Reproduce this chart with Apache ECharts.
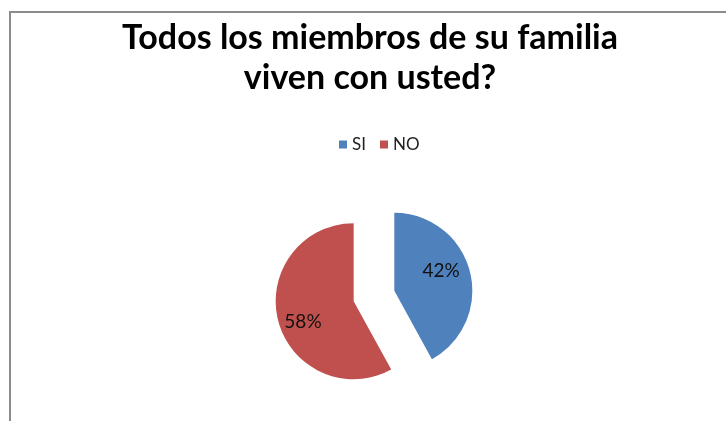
<!DOCTYPE html>
<html>
<head>
<meta charset="utf-8">
<script src="https://cdn.jsdelivr.net/npm/echarts@6/dist/echarts.min.js"></script>
<style>
    html, body { margin: 0; padding: 0; background: #fff; }
    #familia { width: 726px; height: 421px; }
</style>
</head>
<body>
<div id="familia"></div>
<script>
var categories = ['SI', 'NO'];
var values = [42, 58];
var colors = ['#4F81BD', '#C0504D'];
var titleLines = ['Todos los miembros de su familia', 'viven con usted?'];

var myChart = echarts.init(document.getElementById('familia'));

// label nudges (Excel puts them a bit further out than ECharts does)
var labelShift = [[6, -9], [-10, 10]];

var pieData = categories.map(function (name, i)
{
    return {
        name: name,
        value: values[i],
        selected: true,
        itemStyle: {color: colors[i]}
    };
});

var option = {
    backgroundColor: '#fff',
    animation: false,
    title: {
        text: titleLines.join('\n'),
        left: 365,
        top: 13,
        textAlign: 'center',
        textStyle: {
            fontFamily: 'Lato',
            fontWeight: 'bold',
            fontSize: 34,
            lineHeight: 40,
            color: '#000'
        }
    },
    legend: {
        data: categories,
        left: 334,
        top: 131,
        icon: 'rect',
        itemWidth: 8,
        itemHeight: 8,
        itemGap: 14,
        selectedMode: false,
        textStyle: {
            fontFamily: 'Lato',
            fontSize: 17,
            color: '#222'
        }
    },
    graphic: [
        {
            type: 'rect',
            silent: true,
            shape: {x: 10, y: 12, width: 760, height: 460},
            style: {fill: 'none', stroke: '#8c8c8c', lineWidth: 2}
        }
    ],
    series: [
        {
            type: 'pie',
            center: [374, 296],
            radius: 78,
            startAngle: 90,
            clockwise: true,
            selectedMode: 'multiple',
            selectedOffset: 21,
            emphasis: {scale: false},
            label: {
                show: true,
                position: 'inside',
                formatter: function (p)
                {
                    return Math.round(p.percent) + '%';
                },
                fontFamily: 'Lato',
                fontSize: 19,
                color: '#111'
            },
            labelLine: {show: false},
            labelLayout: function (params)
            {
                var s = labelShift[params.dataIndex];
                return {dx: s[0], dy: s[1]};
            },
            data: pieData
        }
    ]
};

myChart.setOption(option);
</script>
</body>
</html>
